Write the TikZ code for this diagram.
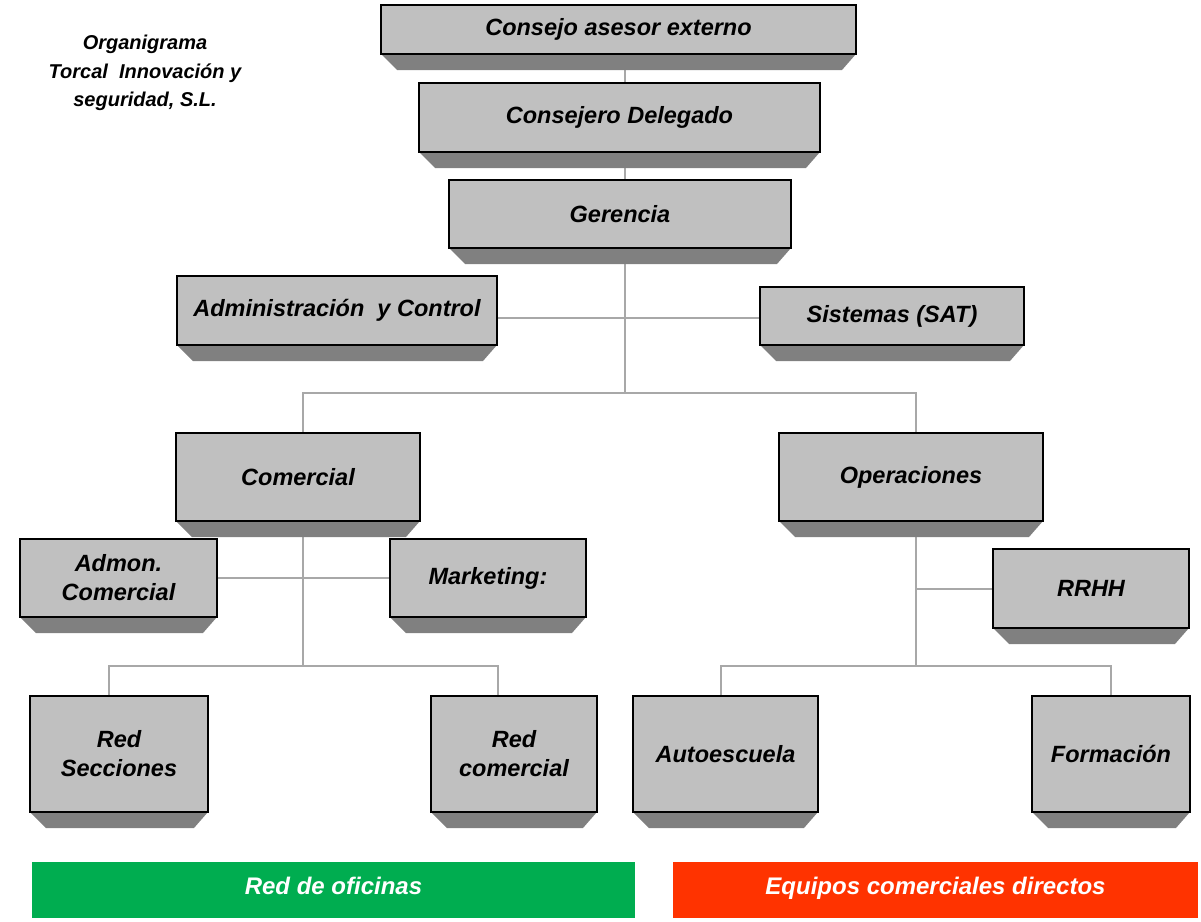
\documentclass[tikz,border=0pt]{standalone}
\usepackage{fontspec}
\setmainfont{Liberation Sans}
\usetikzlibrary{calc,backgrounds}

\definecolor{boxface}{HTML}{C0C0C0}
\definecolor{boxshade}{HTML}{808080}
\definecolor{linkgray}{HTML}{A8A8A8}
\definecolor{bandgreen}{HTML}{00AD50}
\definecolor{bandred}{HTML}{FF3300}

\tikzset{
  orgbox/.style={draw=black, line width=1.5pt, fill=boxface, inner sep=0pt,
    outer sep=0pt, align=center,
    font=\fontsize{23.5}{29}\selectfont\bfseries\itshape},
  link/.style={draw=linkgray, line width=2pt},
  band/.style={inner sep=0pt, outer sep=0pt, text=white,
    font=\fontsize{24}{28}\selectfont\bfseries\itshape},
}

% bevelled drop shadow under a box (y axis points down)
\newcommand\boxshadow[1]{%
  \fill[boxshade] (#1.south west) -- (#1.south east)
    -- ($(#1.south east)+(-14,16)$) -- ($(#1.south west)+(16,16)$) -- cycle;}

\begin{document}
\begin{tikzpicture}[x=1pt,y=-1pt]
\useasboundingbox (0,0) rectangle (1201,921);

% title
\node[align=center, font=\fontsize{20}{28.5}\selectfont\bfseries\itshape]
  (title) at (145,73) {Organigrama\\Torcal\ \ Innovación y\\seguridad, S.L.};

% boxes
\node[orgbox, minimum width=475, minimum height=49] (cae)  at (618.5,29.5) {Consejo asesor externo};
\node[orgbox, minimum width=401, minimum height=69] (cd)   at (619.5,117.5) {Consejero Delegado};
\node[orgbox, minimum width=342, minimum height=68] (ger)  at (620,214) {Gerencia};
\node[orgbox, minimum width=320, minimum height=69] (adm)  at (337,310.5) {Administración\ \ y Control};
\node[orgbox, minimum width=264, minimum height=58] (sis)  at (892,316) {Sistemas (SAT)};
\node[orgbox, minimum width=244, minimum height=88] (com)  at (298,477) {Comercial};
\node[orgbox, minimum width=264, minimum height=88] (ope)  at (911,477) {Operaciones};
\node[orgbox, minimum width=197, minimum height=78] (admc) at (118.5,578) {Admon.\\Comercial};
\node[orgbox, minimum width=196, minimum height=78] (mkt)  at (488,578) {Marketing:};
\node[orgbox, minimum width=196, minimum height=79] (rrhh) at (1091,588.5) {RRHH};
\node[orgbox, minimum width=178, minimum height=116] (rsec) at (119,754) {Red\\Secciones};
\node[orgbox, minimum width=166, minimum height=116] (rcom) at (514,754) {Red\\comercial};
\node[orgbox, minimum width=185, minimum height=116] (auto) at (725.5,754) {Autoescuela};
\node[orgbox, minimum width=158, minimum height=116] (form) at (1111,754) {Formación};

% coloured bands
\node[band, fill=bandgreen, minimum width=603, minimum height=56] (oficinas) at (333.5,890)
  {\raisebox{9pt}{Red de oficinas}};
\node[band, fill=bandred, minimum width=525, minimum height=56] (directos) at (935.5,890)
  {\raisebox{9pt}{Equipos comerciales directos}};

% junction points
\coordinate (hub)   at (625,393);
\coordinate (sysln) at (625,318);
\coordinate (lcol)  at (303,393);
\coordinate (rcol)  at (916,393);
\coordinate (lsplit) at (303,666);
\coordinate (rsplit) at (916,666);
\coordinate (rsx)   at (109,666);
\coordinate (rcx)   at (498,666);
\coordinate (aex)   at (721,666);
\coordinate (fox)   at (1111,666);

\begin{pgfonlayer}{background}
  % connectors
  \draw[link] (cae.south -| hub) -- (hub);
  \draw[link] (adm.east |- sysln) -- (sis.west |- sysln);
  \draw[link] (lcol |- com.north) -- (lcol) -- (rcol) -- (rcol |- ope.north);
  \draw[link] (lcol |- com.south) -- (lsplit);
  \draw[link] (admc.east) -- (mkt.west);
  \draw[link] (rsx |- rsec.north) -- (rsx) -- (rcx) -- (rcx |- rcom.north);
  \draw[link] (rcol |- ope.south) -- (rsplit);
  \draw[link] (rcol |- rrhh.west) -- (rrhh.west);
  \draw[link] (aex |- auto.north) -- (aex) -- (fox) -- (fox |- form.north);
  % shadows
  \foreach \b in {cae,cd,ger,adm,sis,com,ope,admc,mkt,rrhh,rsec,rcom,auto,form}
    {\boxshadow{\b}}
\end{pgfonlayer}
\end{tikzpicture}
\end{document}
